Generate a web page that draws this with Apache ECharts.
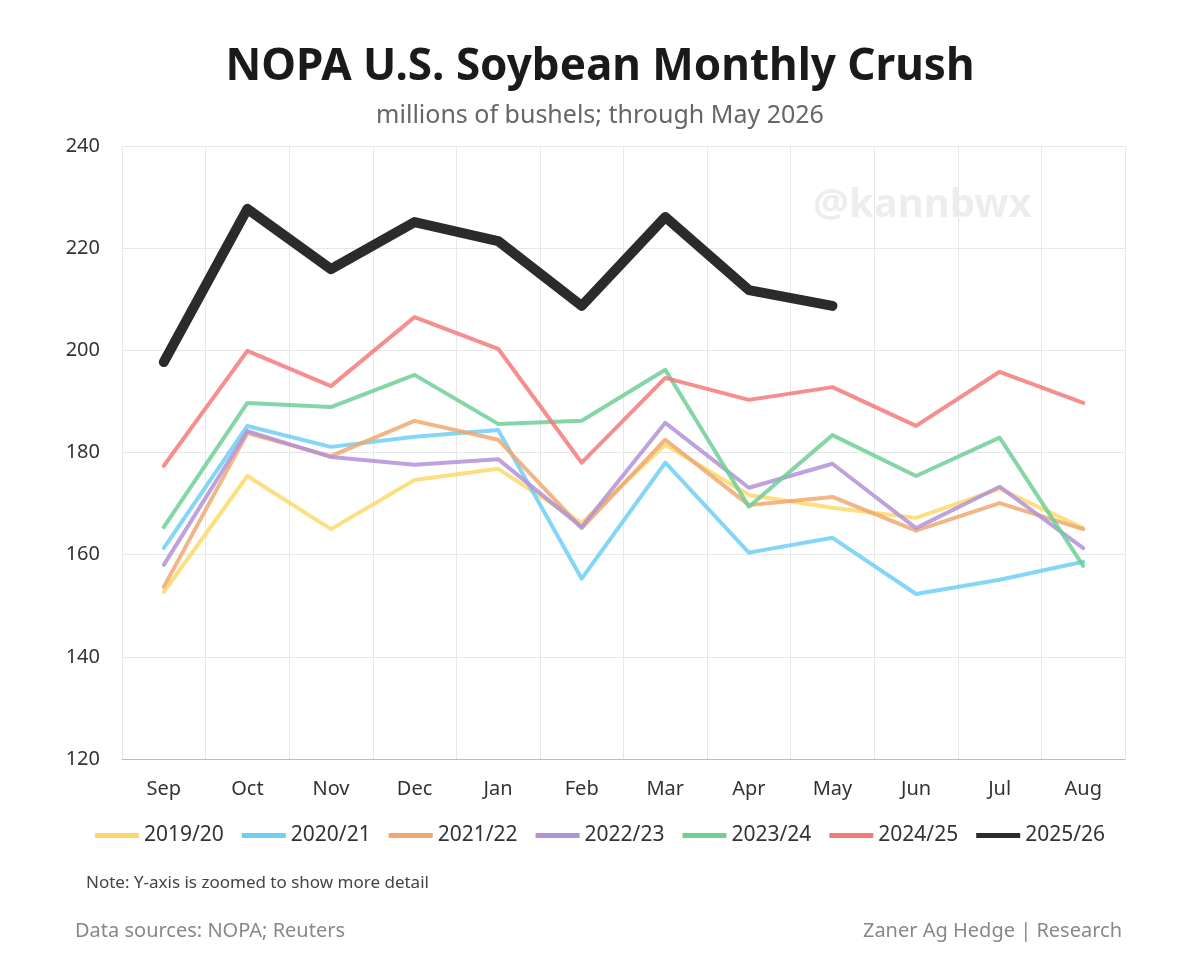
<!DOCTYPE html>
<html><head><meta charset="utf-8">
<script src="https://cdn.jsdelivr.net/npm/echarts@6/dist/echarts.min.js"></script>
<style>body{margin:0;background:#fff}#c{width:1200px;height:962px}</style>
</head><body><div id="c"></div>
<script>
var months=['Sep','Oct','Nov','Dec','Jan','Feb','Mar','Apr','May','Jun','Jul','Aug'];
var y1920=[152.7,175.4,165.0,174.6,176.8,166.2,181.5,171.7,169.2,167.2,172.9,165.2];
var y2021=[161.3,185.2,181.1,183.1,184.4,155.3,178.0,160.4,163.3,152.3,155.1,158.6];
var y2122=[153.7,183.8,179.3,186.2,182.5,165.2,182.5,169.7,171.3,164.7,170.1,165.0];
var y2223=[158.0,184.2,179.1,177.6,178.7,165.4,185.8,173.1,177.8,165.2,173.3,161.3];
var y2324=[165.4,189.7,188.9,195.2,185.6,186.2,196.2,169.4,183.4,175.4,182.9,157.8];
var y2425=[177.4,199.9,193.0,206.5,200.3,178.0,194.6,190.3,192.8,185.2,195.8,189.7];
var y2526=[197.7,227.7,215.9,225.1,221.4,208.7,226.1,211.8,208.7];
var yTicks=[120,140,160,180,200,220,240];

var font='"Noto Sans", sans-serif';
function line(name,data,color,w){
  return {name:name,type:'line',data:data,symbol:'none',
    lineStyle:{width:w,color:color,opacity:w>5?1:0.85,cap:'round',join:'round'},itemStyle:{color:color},z:w>5?10:2};
}
var chart=echarts.init(document.getElementById('c'));
chart.setOption({
  textStyle:{fontFamily:font},
  title:[{text:'NOPA U.S. Soybean Monthly Crush',left:'center',top:40,
    textStyle:{fontSize:44,fontWeight:'bold',color:'#1a1a1a',fontFamily:font}},
    {text:'millions of bushels; through May 2026',left:'center',top:98,
    textStyle:{fontSize:25,fontWeight:'normal',color:'#666',fontFamily:font}}],
  graphic:[
    {type:'text',left:813,top:186,style:{text:'@kannbwx',font:'bold 40px '+font,fill:'rgba(0,0,0,0.07)'}},
    {type:'text',left:86,top:875,style:{text:'Note: Y-axis is zoomed to show more detail',font:'17px '+font,fill:'#444'}},
    {type:'text',left:75,top:921,style:{text:'Data sources: NOPA; Reuters',font:'20px '+font,fill:'#888'}},
    {type:'text',right:78,top:921,style:{text:'Zaner Ag Hedge | Research',font:'20px '+font,fill:'#888'}}
  ],
  legend:{top:820,left:'center',itemWidth:44,itemHeight:5,itemGap:18,icon:'rect',
    textStyle:{fontSize:21,color:'#333',fontFamily:font}},
  grid:{left:122,right:75,top:146,bottom:203},
  xAxis:{type:'category',data:months,boundaryGap:true,
    axisLine:{lineStyle:{color:'#bbb'}},axisTick:{show:false},
    axisLabel:{fontSize:20,color:'#333',margin:20},
    splitLine:{show:true,lineStyle:{color:'#e8e8e8'}}},
  yAxis:{type:'value',min:yTicks[0],max:yTicks[yTicks.length-1],interval:20,
    axisLine:{show:false},axisTick:{show:false},
    axisLabel:{fontSize:20,color:'#333',margin:22},
    splitLine:{lineStyle:{color:'#e8e8e8'}}},
  series:[
    line('2019/20',y1920,'#fdd86a',4),
    line('2020/21',y2021,'#6dcff6',4),
    line('2021/22',y2122,'#f0a870',4),
    line('2022/23',y2223,'#b392d8',4),
    line('2023/24',y2324,'#6fcf97',4),
    line('2024/25',y2425,'#f47a7a',4),
    line('2025/26',y2526,'#2b2b2b',10)
  ]
});
</script></body></html>
